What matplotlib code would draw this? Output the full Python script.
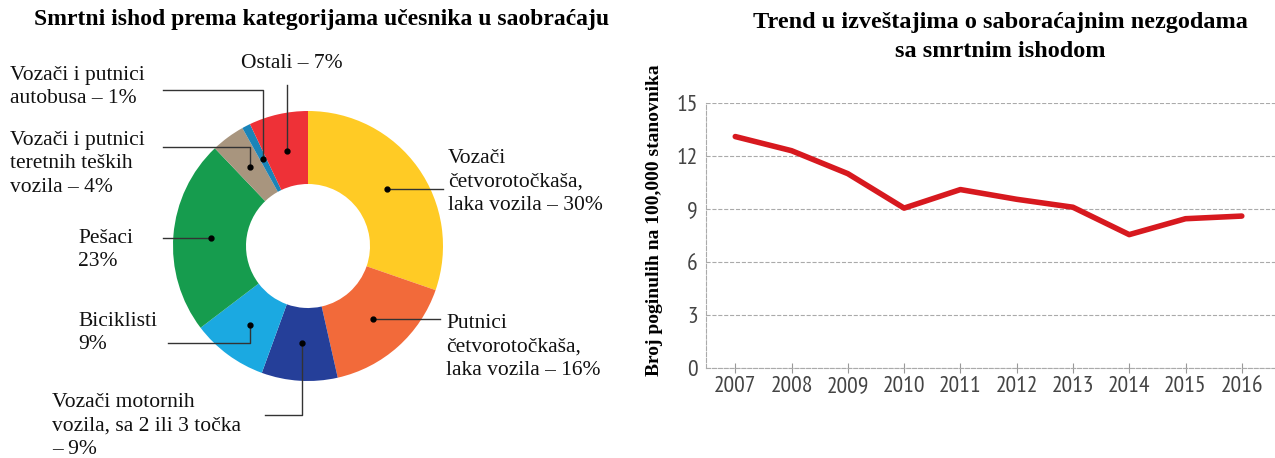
import numpy as np
import matplotlib
matplotlib.use('Agg')
import matplotlib.pyplot as plt

#############################################
# data
categories = ['Vozači\nčetvorotočkaša,\nlaka vozila – 30%',
              'Putnici\nčetvorotočkaša,\nlaka vozila – 16%',
              'Vozači motornih\nvozila, sa 2 ili 3 točka\n– 9%',
              'Biciklisti\n9%',
              'Pešaci\n23%',
              'Vozači i putnici\nteretnih teških\nvozila – 4%',
              'Vozači i putnici\nautobusa – 1%',
              'Ostali – 7%']
shares = [30, 16, 9, 9, 23, 4, 1, 7]
colors = ['#FFCB25', '#F26A3A', '#253F99', '#1BA9E1',
          '#169C4E', '#A8957E', '#1A84B8', '#EE3137']

years = [2007, 2008, 2009, 2010, 2011, 2012, 2013, 2014, 2015, 2016]
deaths = [13.1, 12.3, 11.0, 9.05, 10.1, 9.55, 9.1, 7.55, 8.45, 8.6]
yticks = [0, 3, 6, 9, 12, 15]
#############################################

W, H = 1275, 458
fig = plt.figure(figsize=(W / 100, H / 100), dpi=100)
serif = ['Liberation Serif', 'DejaVu Serif']
narrow = ['PT Sans Narrow', 'Roboto Condensed', 'Open Sans', 'DejaVu Sans']

# left: donut, axes in pixel units (y measured from top via H - y)
ax = fig.add_axes([0, 0, 0.5, 1])
cx, cy, r_out, r_in = 308, H - 246, 135, 62
wedges, _ = ax.pie(shares, colors=colors, startangle=90, counterclock=False,
                   center=(cx, cy), radius=r_out,
                   wedgeprops=dict(width=r_out - r_in, edgecolor='none'))
ax.set_xlim(0, W / 2)
ax.set_ylim(0, H)
ax.set_aspect('equal')
ax.axis('off')

# label placement: (text x, text y, ha, va, elbow y, line end x)
label_pos = [
    (448, 182, 'left', 'center', None, 443),
    (446, 347, 'left', 'center', None, 440),
    (52, 426, 'left', 'center', 415, 265),
    (78, 333, 'left', 'center', 343, 168),
    (78, 250, 'left', 'center', None, 163),
    (10, 164, 'left', 'center', 147, 163),
    (10, 87, 'left', 'center', 90, 163),
    (292, 63, 'center', 'center', 85, None),
]
r_mid = (r_out + r_in) / 2 - 1
for w, lab, (tx, ty, ha, va, ey, ex) in zip(wedges, categories, label_pos):
    ang = np.deg2rad((w.theta1 + w.theta2) / 2)
    dx, dy = cx + r_mid * np.cos(ang), cy + r_mid * np.sin(ang)
    ax.plot(dx, dy, 'o', color='black', ms=3.5, zorder=5)
    if ex is None:
        ax.plot([dx, dx], [dy, H - ey], color='#333333', lw=1)
    elif ey is None:
        ax.plot([dx, ex], [dy, dy], color='#333333', lw=1)
    else:
        ax.plot([dx, dx, ex], [dy, H - ey, H - ey], color='#333333', lw=1)
    ax.text(tx, H - ty, lab, ha=ha, va=va, fontsize=15.5, family=serif,
            linespacing=1.3, color='#111111')

fig.text(322 / W, 1 - 20 / H, 'Smrtni ishod prema kategorijama učesnika u saobraćaju',
         ha='center', va='center', fontsize=17, fontweight='bold', family=serif)

# right: line chart
x0, x1 = 706, 1275
y_top, y_bot = 103, 368
ax2 = fig.add_axes([x0 / W, 1 - y_bot / H, (x1 - x0) / W, (y_bot - y_top) / H])
ax2.plot(years, deaths, color='#D7191F', lw=4, solid_capstyle='round',
         solid_joinstyle='round')
ax2.set_xlim(2006.48, 2016.59)
ax2.set_ylim(0, 15)
ax2.set_yticks(yticks)
ax2.set_xticks(years)
ax2.grid(axis='y', color='#AAAAAA', ls='--', lw=0.8)
for s in ['top', 'right']:
    ax2.spines[s].set_visible(False)
for s in ['left', 'bottom']:
    ax2.spines[s].set_color('#AAAAAA')
    ax2.spines[s].set_linestyle('--')
    ax2.spines[s].set_linewidth(0.8)
ax2.tick_params(axis='x', direction='inout', length=7, color='#999999',
                labelsize=17, labelcolor='#444444', pad=2)
ax2.tick_params(axis='y', length=0, labelsize=17, labelcolor='#444444', pad=6)
for lab in ax2.get_xticklabels() + ax2.get_yticklabels():
    lab.set_family(narrow)
ax2.set_ylabel('Broj poginulih na 100,000 stanovnika', fontsize=14,
               fontweight='bold', family=serif)
ax2.yaxis.set_label_coords(-0.0756, (y_bot - 220) / (y_bot - y_top))
ax2.set_axisbelow(True)

fig.text(1000 / W, 1 - 37 / H, 'Trend u izveštajima o saboraćajnim nezgodama\nsa smrtnim ishodom',
         ha='center', va='center', fontsize=17.5, fontweight='bold', family=serif,
         linespacing=1.45)

fig.savefig('out.png', dpi=100)
